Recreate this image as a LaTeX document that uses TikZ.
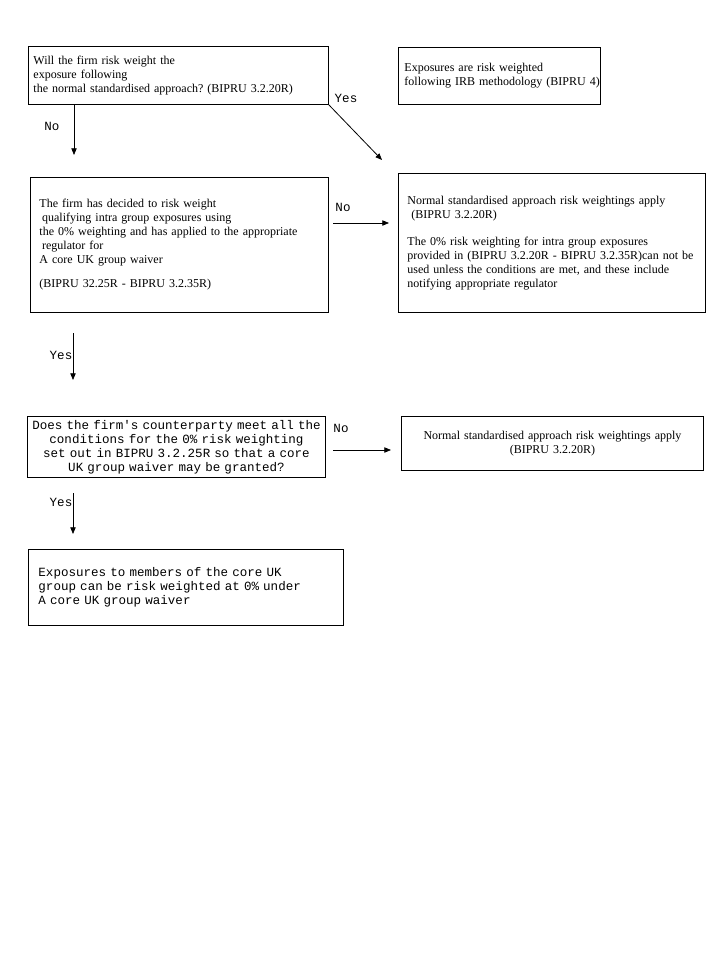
\documentclass[tikz,border=0pt]{standalone}
\usepackage{fontspec}
\setmainfont{Liberation Serif}
\setmonofont{Liberation Mono}[WordSpace={1,0,0}]
\usetikzlibrary{arrows.meta}
\newcommand{\ind}{\hspace*{2pt}}
\frenchspacing

\begin{document}
\begin{tikzpicture}[x=0.75pt,y=-0.75pt,
    box/.style={draw,line width=0.7pt,anchor=north west,inner ysep=0pt,align=left,
      font=\fontsize{9}{10.4}\selectfont},
    monobox/.style={box,font=\ttfamily\fontsize{9.4}{10.5}\selectfont},
    lbl/.style={inner sep=0pt,font=\ttfamily\fontsize{9.4}{10.5}\selectfont},
    arr/.style={line width=0.6pt,-{Triangle[length=5pt,width=4pt]}}]
  \useasboundingbox (0,0) rectangle (720,960);
  % boxes
  \node[box,inner xsep=3.75pt,text width=217.5pt,minimum height=43.5pt] (A) at (28,46)
    {Will the firm risk weight the\\ exposure following\\ the normal standardised approach? (BIPRU 3.2.20R)};
  \node[box,inner xsep=4.5pt,text width=142.5pt,minimum height=42.75pt] (B) at (398,47)
    {Exposures are risk weighted\\ \mbox{following IRB methodology (BIPRU 4)}};
  \node[box,inner xsep=6.75pt,text width=210pt,minimum height=101.25pt] (C) at (30,177)
    {The firm has decided to risk weight\\ \ind qualifying intra group exposures using\\
     the 0\% weighting and has applied to the appropriate\\ \ind regulator for\\
     A core UK group waiver\\[8pt] (BIPRU 32.25R - BIPRU 3.2.35R)};
  \node[box,inner xsep=6.75pt,text width=216.75pt,minimum height=104.25pt] (D) at (398,173)
    {Normal standardised approach risk weightings apply\\ \hspace*{3pt}(BIPRU 3.2.20R)\\[10.4pt]
     The 0\% risk weighting for intra group exposures\\
     provided in (BIPRU 3.2.20R - BIPRU 3.2.35R)can not be\\
     used unless the conditions are met, and these include\\ notifying appropriate regulator};
  \node[monobox,align=center,inner xsep=0.75pt,text width=222pt,minimum height=45.75pt] (E) at (27,416)
    {Does the firm's counterparty meet all the\\ conditions for the 0\% risk weighting\\
     set out in BIPRU 3.2.25R so that a core\\ UK group waiver may be granted?};
  \node[box,align=center,inner xsep=4.5pt,text width=217.5pt,minimum height=40.5pt] (F) at (401,416)
    {Normal standardised approach risk weightings apply\\ (BIPRU 3.2.20R)};
  \node[monobox,inner xsep=7.5pt,text width=221.25pt,minimum height=57pt] (G) at (28,549)
    {Exposures to members of the core UK\\ group can be risk weighted at 0\% under\\ A core UK group waiver};
  % arrow ends
  \coordinate (noAend) at (74,155);
  \coordinate (yesAend) at (382,160);
  \coordinate (cdS) at (333,223);
  \coordinate (cdE) at (389,223);
  \coordinate (ceS) at (73,333);
  \coordinate (ceE) at (73,380);
  \coordinate (efS) at (333,450);
  \coordinate (efE) at (391,450);
  \coordinate (egS) at (73,493);
  \coordinate (egE) at (73,534);
  % arrows
  \draw[arr] (A.south -| noAend) -- (noAend);
  \draw[arr] (A.south east) -- (yesAend);
  \draw[arr] (cdS) -- (cdE);
  \draw[arr] (ceS) -- (ceE);
  \draw[arr] (efS) -- (efE);
  \draw[arr] (egS) -- (egE);
  % labels
  \node[lbl] (lNoA) at (52,126) {No};
  \node[lbl] (lYesA) at (346,98) {Yes};
  \node[lbl] (lNoC) at (343,207) {No};
  \node[lbl] (lYesC) at (61,355) {Yes};
  \node[lbl] (lNoE) at (341,428.5) {No};
  \node[lbl] (lYesE) at (61,502) {Yes};
\end{tikzpicture}
\end{document}
